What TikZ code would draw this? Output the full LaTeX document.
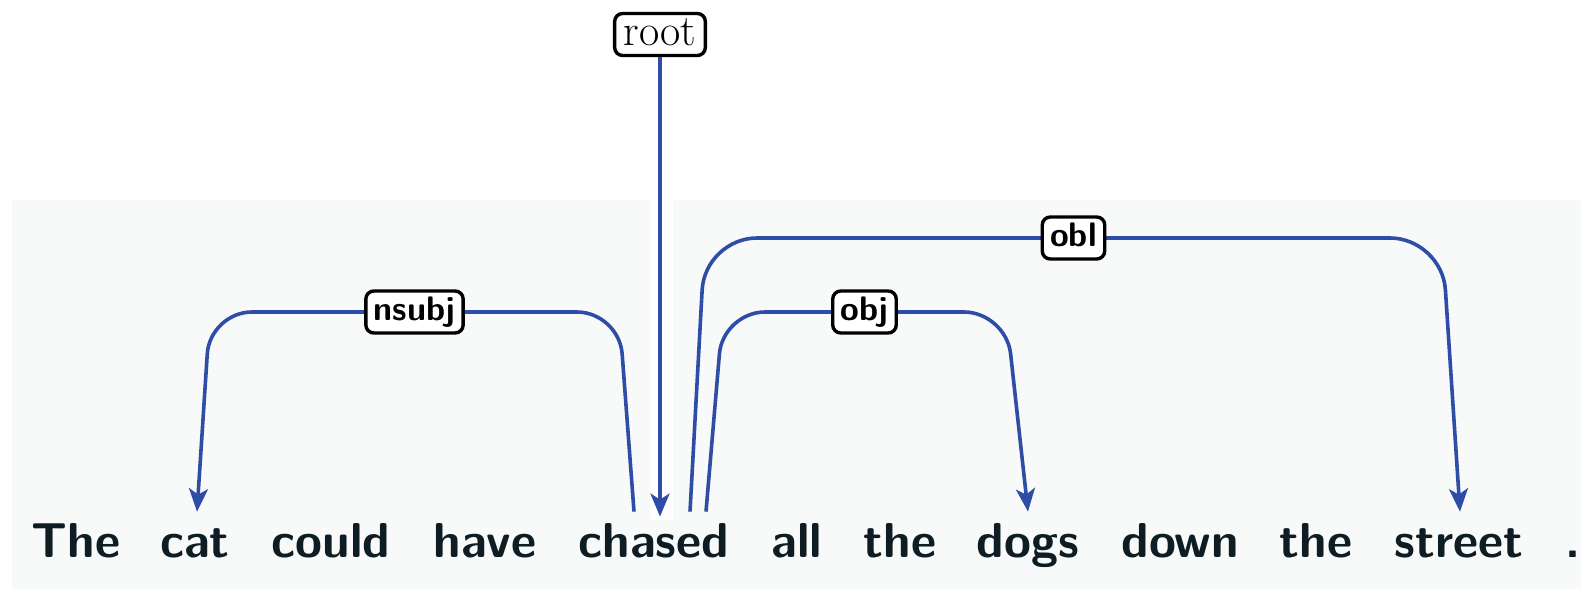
\documentclass[tikz,border=0pt]{standalone}
\usetikzlibrary{arrows.meta}
\definecolor{deparc}{RGB}{46,77,167}
\definecolor{wordcol}{RGB}{14,28,36}
\definecolor{panel}{RGB}{248,249,249}
\begin{document}
\begin{tikzpicture}[x=0.5pt,y=-0.5pt,
  word/.style={font=\sffamily\bfseries\fontsize{24.5}{29}\selectfont, text=wordcol, inner sep=0pt, anchor=base, text height=22.5pt},
  lab/.style={draw=black, line width=1.7pt, fill=white, rounded corners=4pt, text=black,
    font=\sffamily\bfseries\fontsize{17}{20}\selectfont, inner xsep=4pt, inner ysep=3pt,
    text height=11.5pt, text depth=3.5pt},
  rootbox/.style={draw=black, line width=1.7pt, fill=white, rounded corners=4pt,
    font=\fontsize{22}{26}\selectfont, inner xsep=4.5pt, inner ysep=3pt, text height=13pt, text depth=2pt},
  dep/.style={draw=deparc, line width=1.8pt, rounded corners=21pt,
    -{Stealth[length=11.5pt,width=9.5pt,inset=3pt]}}]
\useasboundingbox (0,0) rectangle (1581,589);
\fill[panel] (12,200) rectangle (1581,589);
\fill[white] (650,200) rectangle (673,520);

\node[word] (w1) at (76,557) {The};
\node[word] (w2) at (195,557) {cat};
\node[word] (w3) at (331,557) {could};
\node[word] (w4) at (485,557) {have};
\node[word] (w5) at (654,557) {chased};
\node[word] (w6) at (797,557) {all};
\node[word] (w7) at (900,557) {the};
\node[word] (w8) at (1028,557) {dogs};
\node[word] (w9) at (1180,557) {down};
\node[word] (w10) at (1316,557) {the};
\node[word] (w11) at (1459,557) {street};
\node[word] (w12) at (1573,557) {.};

\node[rootbox] (root) at (660,34.5) {root};

\draw[dep, rounded corners=26pt] ([xshift=18pt]w5.north) -- (705,238) -- node[lab] (lobl) {obl} (1442,238) -- ([xshift=0.5pt]w11.north);
\draw[dep] ([xshift=26pt]w5.north) -- (723,312) -- node[lab] (lobj) {obj} (1006,312) -- (w8.north);
\draw[dep] ([xshift=-10pt]w5.north) -- (619,312) -- node[lab] (lnsubj) {nsubj} (210,312) -- ([xshift=1pt]w2.north);
\draw[dep, shorten >=-2.5pt] (root.south) -- ([xshift=3pt]w5.north);
\end{tikzpicture}
\end{document}
